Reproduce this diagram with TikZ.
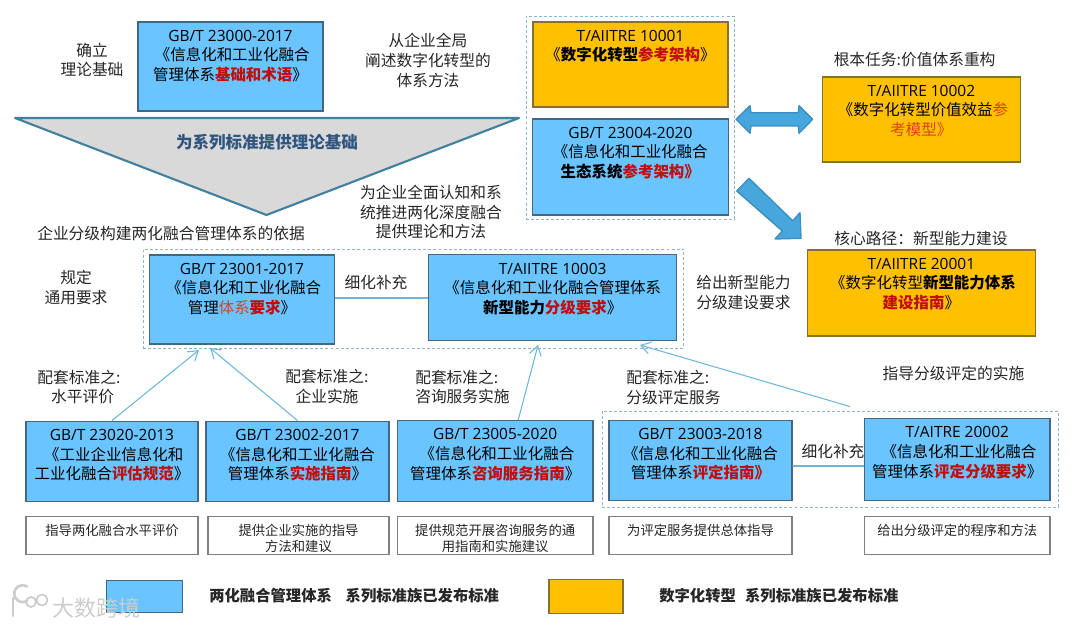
\documentclass[tikz,border=0pt]{standalone}
\usepackage{fontspec}
\setmainfont{Noto Sans CJK SC}
\newfontfamily\codefont{Open Sans}
\usetikzlibrary{arrows.meta,calc}
\definecolor{boxblue}{HTML}{69C4FF}
\definecolor{boxorange}{HTML}{FFC000}
\definecolor{blueedge}{HTML}{46657E}
\definecolor{orangeedge}{HTML}{85722E}
\definecolor{linkblue}{HTML}{6DB7DC}
\definecolor{dashblue}{HTML}{8DB5C7}
\definecolor{arrowblue}{HTML}{47A6DC}
\definecolor{arrowedge}{HTML}{3A8FC0}
\definecolor{triedge}{HTML}{41819F}
\definecolor{trifill}{HTML}{D9D9D9}
\definecolor{tritext}{HTML}{2F5680}
\definecolor{markred}{HTML}{C00D0D}
\definecolor{softred}{HTML}{D8431C}
\definecolor{labeltext}{HTML}{262626}
\newcommand{\redb}[1]{\textbf{\textcolor{markred}{#1}}}
\newcommand{\redn}[1]{\textcolor{softred}{#1}}
\newcommand{\code}[1]{{\codefont #1}}
\tikzset{
  sized/.style 2 args={minimum width=#1*0.75pt, minimum height=#2*0.75pt},
  stdbox/.style={draw=blueedge, fill=boxblue, line width=0.8pt, inner sep=0pt},
  orangebox/.style={draw=orangeedge, fill=boxorange, line width=0.8pt, inner sep=0pt},
  notebox/.style={draw=gray, fill=white, line width=0.8pt, inner sep=0pt},
  groupbox/.style={draw=dashblue, line width=0.7pt, dash pattern=on 2.2pt off 1.6pt, inner sep=0pt},
  boxtxt/.style={anchor=north, inner sep=0pt, align=center, text=black, yshift=-6.2pt, font=\fontsize{11.6}{14.8}\selectfont},
  notetxt/.style={anchor=north, inner sep=0pt, align=center, text=labeltext, yshift=-5.6pt, font=\fontsize{10}{12.4}\selectfont},
  lbl/.style={inner sep=0pt, align=center, text=labeltext, font=\fontsize{11.8}{14.7}\selectfont},
  lblleft/.style={lbl, align=left, anchor=west},
  legendtxt/.style={inner sep=0pt, anchor=west, text=labeltext, font=\fontsize{11.5}{14}\selectfont\bfseries},
  link/.style={draw=linkblue, line width=0.8pt},
  linkbar/.style={draw=linkblue, line width=1.2pt},
  linkarrow/.style={link, -{Straight Barb[length=7pt,width=9pt]}},
  blockarrow/.style={draw=arrowedge, fill=arrowblue, line width=1pt, line join=round},
  markline/.style={draw=gray!40, line cap=round},
}
\begin{document}
\begin{tikzpicture}[x=0.75pt,y=-0.75pt]
\useasboundingbox (0,0) rectangle (1080,627);

% groups
\node[groupbox,sized={208}{203}] (topgroup) at (630,117.5) {};
\node[groupbox,sized={540.5}{99}] (midgroup) at (413.3,298.5) {};
\node[groupbox,sized={456}{96}] (rategroup) at (830,459) {};

% triangle
\draw[triedge, fill=trifill, line width=1.6pt, line join=round] (15,118) -- (519,118) -- (266.5,215) -- cycle;
\node[inner sep=0pt, text=tritext, font=\fontsize{12.4}{14}\selectfont\bfseries] (tritxt) at (267,142) {为系列标准提供理论基础};

% top row
\node[stdbox,sized={185}{89}] (g23000) at (230.5,66.5) {};
\node[boxtxt] (g23000t) at (g23000.north) {\code{GB/T 23000-2017}\\\ 《信息化和工业化融合\\管理体系\redb{基础和术语}》};
\node[orangebox,sized={195}{85}] (t10001) at (630.5,64.5) {};
\node[boxtxt] (t10001t) at (t10001.north) {\code{T/AIITRE 10001}\\《\textbf{数字化转型}\redb{参考架构}》};
\node[stdbox,sized={195.5}{96}] (g23004) at (630.3,167) {};
\node[boxtxt] (g23004t) at (g23004.north) {\code{GB/T 23004-2020}\\《信息化和工业化融合\\\textbf{生态系统}\redb{参考架构》}};
\node[orangebox,sized={197.5}{85}] (t10002) at (921.3,119.5) {};
\node[boxtxt] (t10002t) at (t10002.north) {\code{T/AIITRE 10002}\\\ 《数字化转型价值效益\redn{参}\\\redn{考模型》}};
\node[orangebox,sized={227.5}{86}] (t20001) at (921.3,293) {};
\node[boxtxt] (t20001t) at (t20001.north) {\code{T/AIITRE 20001}\\\ 《数字化转型\textbf{新型能力体系}\\\redb{建设指南}》};

% middle row
\node[stdbox,sized={185}{89}] (g23001) at (242,299.5) {};
\node[boxtxt] (g23001t) at (g23001.north) {\code{GB/T 23001-2017}\\\ 《信息化和工业化融合\\管理\redn{体系}\redb{要求}》};
\node[stdbox,sized={248.5}{85.5}] (t10003) at (552.7,297.7) {};
\node[boxtxt] (t10003t) at (t10003.north) {\code{T/AIITRE 10003}\\《信息化和工业化融合管理体系\\\textbf{新型能力}\redb{分级要求}》};

% bottom row
\node[stdbox,sized={172}{80.5}] (g23020) at (112,461.3) {};
\node[boxtxt] (g23020t) at (g23020.north) {\code{GB/T 23020-2013}\\\ 《工业企业信息化和\\工业化融合\redb{评估规范}》};
\node[stdbox,sized={183}{80.5}] (g23002) at (297.5,461.3) {};
\node[boxtxt] (g23002t) at (g23002.north) {\code{GB/T 23002-2017}\\《信息化和工业化融合\\管理体系\redb{实施指南}》};
\node[stdbox,sized={195.6}{80.5}] (g23005) at (495.2,460.8) {};
\node[boxtxt] (g23005t) at (g23005.north) {\code{GB/T 23005-2020}\\\ 《信息化和工业化融合\\管理体系\redb{咨询服务指南}》};
\node[stdbox,sized={183}{80.5}] (g23003) at (700.5,460.5) {};
\node[boxtxt] (g23003t) at (g23003.north) {\code{GB/T 23003-2018}\\《信息化和工业化融合\\管理体系\redb{评定指南》}};
\node[stdbox,sized={185.4}{82}] (t20002) at (957.3,459.7) {};
\node[boxtxt] (t20002t) at (t20002.north) {\code{T/AITRE 20002}\\\ 《信息化和工业化融合\\管理体系\redb{评定分级要求}》};

% notes
\node[notebox,sized={172}{37.6}] (note1) at (112,535.5) {};
\node[notetxt] (note1t) at (note1.north) {指导两化融合水平评价};
\node[notebox,sized={181}{37.6}] (note2) at (298.5,535.5) {};
\node[notetxt] (note2t) at (note2.north) {提供企业实施的指导\\方法和建议};
\node[notebox,sized={195.6}{37.6}] (note3) at (495.2,535.5) {};
\node[notetxt] (note3t) at (note3.north) {提供规范开展咨询服务的通\\用指南和实施建议};
\node[notebox,sized={183}{37.6}] (note4) at (700.5,535.5) {};
\node[notetxt] (note4t) at (note4.north) {为评定服务提供总体指导};
\node[notebox,sized={185.4}{37.6}] (note5) at (957.3,535.5) {};
\node[notetxt] (note5t) at (note5.north) {给出分级评定的程序和方法};

% links
\coordinate (mid1) at (199,350);
\coordinate (mid2) at (210,348);
\coordinate (mid3) at (538,345);
\coordinate (mid4) at (640,345);
\draw[linkarrow] (g23020.north) -- (mid1);
\draw[linkarrow] (g23002.north) -- (mid2);
\draw[linkarrow] ($(g23005.north)+(23,0)$) -- (mid3);
\draw[linkarrow] ($(rategroup.north)+(20,-4)$) -- (mid4);
\draw[linkbar] (t10003.west -| g23001.east) -- (t10003.west);
\draw[linkbar] ($(g23003.east)+(0,5.5)$) -- ($(t20002.west)+(0,6.3)$);

% block arrows
\draw[blockarrow] (736,119.3) -- (750,105.7) -- (751,112.7) -- (798.3,112.7) -- (799,105.7) -- (812.7,119.3)
  -- (799,133.3) -- (798.3,126) -- (751,126) -- (750,133.3) -- cycle;
\draw[blockarrow] (736.7,191) -- (749,178.3) -- (792.7,220.7) -- (800,212.7) -- (801,238.3) -- (775,239) -- (782.3,231) -- cycle;

% labels
\node[lbl] (basis) at (92,60) {确立\\理论基础};
\node[lbl] (wholeview) at (428,60.5) {从企业全局\\阐述数字化转型的\\体系方法};
\node[lbl] (cognition) at (431,212) {为企业全面认知和系\\统推进两化深度融合\\提供理论和方法};
\node[lbl] (gradedbasis) at (171,233) {企业分级构建两化融合管理体系的依据};
\node[lbl] (taskroot) at (914.6,59.5) {根本任务:价值体系重构};
\node[lbl] (corepath) at (921,238.5) {核心路径：新型能力建设};
\node[lbl] (general) at (76,287.5) {规定\\通用要求};
\node[lbl] (refine1) at (376,283) {细化补充};
\node[lblleft] (capgive) at (696,292.5) {给出新型能力\\分级建设要求};
\node[lbl] (set1) at (79,387) {配套标准之:\\\ \ 水平评价};
\node[lbl] (set2) at (327,386.5) {配套标准之:\\企业实施};
\node[lblleft] (set3) at (415,387) {配套标准之:\\咨询服务实施};
\node[lblleft] (set4) at (626,387.5) {配套标准之:\\分级评定服务};
\node[lbl] (guide) at (953.5,373) {指导分级评定的实施};
\node[lbl] (refine2) at (833,452) {细化补充};

% legend
\node[stdbox,sized={76.5}{32}] (legblue) at (144.7,596.7) {};
\node[legendtxt] (legbluet) at (209,596) {两化融合管理体系\hspace{0.9em}系列标准族已发布标准};
\node[orangebox,sized={74}{34.5}] (legorange) at (586,596.3) {};
\node[legendtxt] (legoranget) at (659,596) {数字化转型\hspace{0.6em}系列标准族已发布标准};

% mark
\draw[markline, line width=2pt] (13,598) -- (13,616);
\draw[markline, line width=2pt] (27,601) arc (60:300:8.5);
\draw[markline, line width=1.3pt] (31,602) circle (5) (42,600) circle (5.5);
\node[inner sep=0pt, text=gray!40, font=\fontsize{16.5}{18}\selectfont] (markname) at (96,608) {大数跨境};
\end{tikzpicture}
\end{document}
